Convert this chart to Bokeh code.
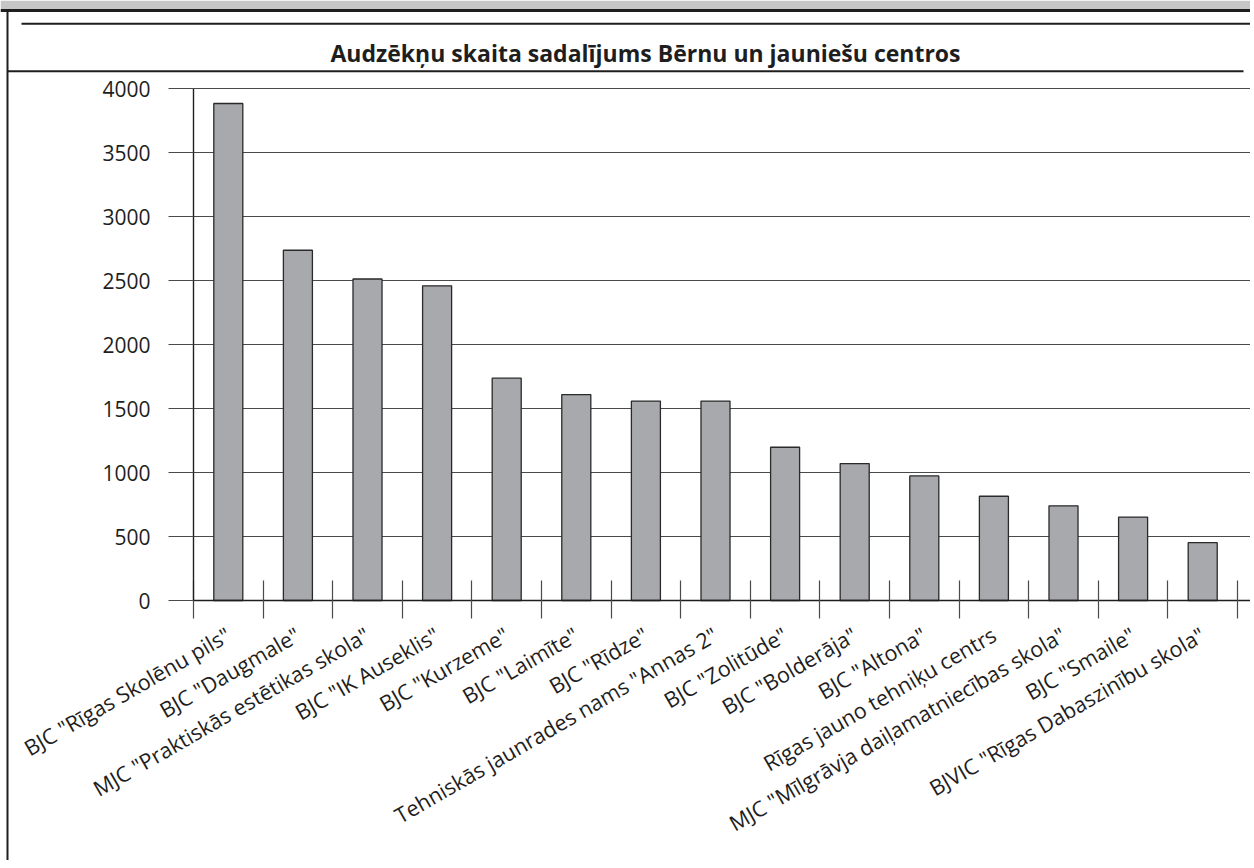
import math
from bokeh.plotting import figure
from bokeh.models import Range1d, FixedTicker, Label
from bokeh.embed import file_html
from bokeh.resources import INLINE

title_text = "Audzēkņu skaita sadalījums Bērnu un jauniešu centros"

categories = [
    'BJC "Rīgas Skolēnu pils"',
    'BJC "Daugmale"',
    'MJC "Praktiskās estētikas skola"',
    'BJC "IK Auseklis"',
    'BJC "Kurzeme"',
    'BJC "Laimīte"',
    'BJC "Rīdze"',
    'Tehniskās jaunrades nams "Annas 2"',
    'BJC "Zolitūde"',
    'BJC "Bolderāja"',
    'BJC "Altona"',
    'Rīgas jauno tehniķu centrs',
    'MJC "Mīlgrāvja daiļamatniecības skola"',
    'BJC "Smaile"',
    'BJVIC "Rīgas Dabaszinību skola"',
]
counts = [3885, 2738, 2513, 2460, 1738, 1610, 1559, 1559, 1198, 1070, 974, 815, 740, 652, 452]
y_ticks = [0, 500, 1000, 1500, 2000, 2500, 3000, 3500, 4000]

FONT = "Open Sans"
INK = "#1e1e1e"
GRID = "#4a4a4a"
BAR = "#a8a9ad"

# canvas geometry (pixels)
W, H = 1250, 860
AXIS_X = 193          # canvas x of the value axis
CAT_PX = 69.6         # pixels per category
BASE_Y = 600          # canvas y of the zero line
TOP_Y = 88.3          # canvas y of the 4000 line
Y_MAX = y_ticks[-1]

n = len(categories)
xs = list(range(n))
boundaries = [i - 0.5 for i in range(n + 1)]

px_per_unit = (BASE_Y - TOP_Y) / Y_MAX
x_start = -0.5 - AXIS_X / CAT_PX
x_end = -0.5 + (W - AXIS_X) / CAT_PX
y_end = Y_MAX + TOP_Y / px_per_unit
y_start = -(H - BASE_Y) / px_per_unit

p = figure(width=W, height=H, x_range=Range1d(x_start, x_end), y_range=Range1d(y_start, y_end),
           toolbar_location=None, output_backend="svg", min_border=0)
p.outline_line_color = None
p.background_fill_color = "white"
p.border_fill_color = "white"

# pixel space for the page furniture (rules, frame border)
p.extra_x_ranges = {"px": Range1d(0, W)}
p.extra_y_ranges = {"px": Range1d(H, 0)}

# ---- header band, rules and title ----
p.quad(left=[0], right=[W], top=[0], bottom=[8.5], fill_color="#c6c6c6", line_color=None,
       x_range_name="px", y_range_name="px")
p.segment(x0=[0, 21, 7], y0=[10, 23.3, 70.7], x1=[W, W, 1243], y1=[10, 23.3, 70.7],
          line_width=[3, 2, 2], line_color=INK, x_range_name="px", y_range_name="px")
p.segment(x0=[7], y0=[9], x1=[7], y1=[H], line_width=2, line_color=INK,
          x_range_name="px", y_range_name="px")
p.add_layout(Label(x=645, y=52, x_range_name="px", y_range_name="px", text=title_text,
                   text_align="center", text_baseline="middle",
                   text_font=FONT, text_font_style="bold", text_font_size="23px",
                   text_color=INK))

# ---- value axis ----
p.yaxis.fixed_location = -0.5
p.yaxis.ticker = FixedTicker(ticks=y_ticks)
p.yaxis.bounds = (0, Y_MAX)
p.yaxis.major_tick_out = 25
p.yaxis.major_tick_in = 0
p.yaxis.minor_tick_line_color = None
p.yaxis.axis_line_color = INK
p.yaxis.axis_line_width = 1.2
p.yaxis.major_tick_line_color = GRID
p.yaxis.major_tick_line_width = 1.2
p.yaxis.major_label_standoff = 18
p.yaxis.major_label_text_font = FONT
p.yaxis.major_label_text_font_size = "21px"
p.yaxis.major_label_text_color = INK
# make sure the value axis spine is visible along the full 0..max span
p.segment(x0=[-0.5], y0=[0], x1=[-0.5], y1=[Y_MAX], line_color=INK, line_width=1.2)

p.xgrid.visible = False
p.ygrid.ticker = FixedTicker(ticks=y_ticks[1:])
p.ygrid.grid_line_color = GRID
p.ygrid.grid_line_width = 1.2
try:
    p.ygrid.cross_bounds = (-0.5, x_end)
except Exception:
    p.ygrid.visible = False
    p.segment(x0=[-0.5] * (len(y_ticks) - 1), y0=y_ticks[1:], x1=[x_end] * (len(y_ticks) - 1),
              y1=y_ticks[1:], line_color=GRID, line_width=1.2, level="underlay")

# ---- category axis: labels at bar centres, ticks at category boundaries ----
p.xaxis.fixed_location = 0
p.xaxis.bounds = (-0.5, x_end)
p.xaxis.ticker = FixedTicker(ticks=xs, minor_ticks=boundaries)
p.xaxis.major_label_overrides = {i: c for i, c in enumerate(categories)}
p.xaxis.major_label_orientation = math.pi / 6
p.xaxis.major_tick_line_color = None
p.xaxis.major_tick_in = 0
p.xaxis.major_tick_out = 0
p.xaxis.minor_tick_in = 20
p.xaxis.minor_tick_out = 18
p.xaxis.minor_tick_line_color = GRID
p.xaxis.minor_tick_line_width = 1.2
p.xaxis.axis_line_color = INK
p.xaxis.axis_line_width = 1.5
p.xaxis.major_label_standoff = 14
p.xaxis.major_label_text_font = FONT
p.xaxis.major_label_text_font_size = "21.5px"
p.xaxis.major_label_text_color = INK

p.vbar(x=xs, top=counts, bottom=0, width=0.417, fill_color=BAR, line_color="#2a2a2a", line_width=1.3)

open("out.html", "w").write(file_html(p, INLINE))
